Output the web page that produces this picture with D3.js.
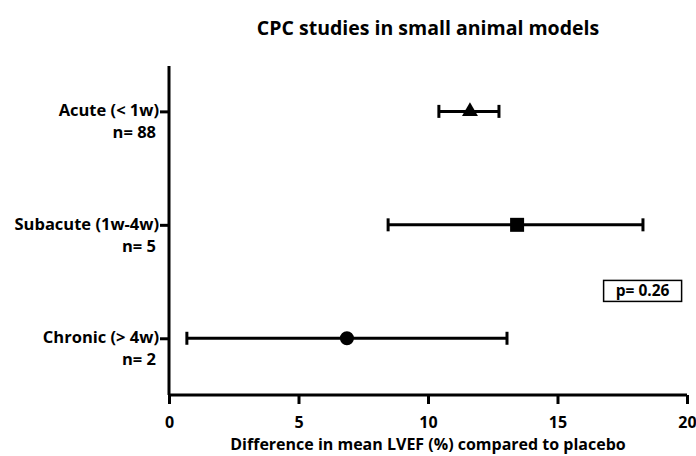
<!DOCTYPE html>
<html>
<head>
<meta charset="utf-8">
<script src="https://cdn.jsdelivr.net/npm/d3@7"></script>
<style>
  body { margin: 0; background: #fff; }
  text { font-family: "Open Sans", sans-serif; font-weight: bold; fill: #000; }
</style>
</head>
<body>
<div id="chart"></div>
<script>
// values
let groups = ["Acute (< 1w)", "Subacute (1w-4w)", "Chronic (> 4w)"];
let n_labels = ["n= 88", "n= 5", "n= 2"];
let means = [11.62, 13.44, 6.87];
let lower = [10.42, 8.46, 0.69];
let upper = [12.74, 18.3, 13.05];
let shapes = ["triangle", "square", "circle"];
let x_ticks = [0, 5, 10, 15, 20];
let p_label = "p= 0.26";

let graph_config = {
  width: 696,
  height: 456,
  margin: { left: 169, right: 9, top: 66, bottom: 61 }
};

let { width, height, margin } = graph_config;
let inner_w = width - margin.left - margin.right;
let inner_h = height - margin.top - margin.bottom;

let svg = d3.select("#chart").append("svg")
  .attr("width", width)
  .attr("height", height);

let g = svg.append("g")
  .attr("transform", "translate(" + margin.left + "," + margin.top + ")");

let x_scale = d3.scaleLinear().domain([0, 20]).range([0, inner_w]);
// rows sit on index positions, a bit more room under the last one
let y_scale = d3.scaleLinear().domain([-0.4, 2.5]).range([0, inner_h]);

let data = groups.map((name, i) => ({
  name, n: n_labels[i], mean: means[i], lo: lower[i], hi: upper[i], shape: shapes[i], i
}));

// x axis
let x_axis = g.append("g")
  .attr("transform", "translate(0," + inner_h + ")")
  .call(d3.axisBottom(x_scale).tickValues(x_ticks).tickSize(9).tickPadding(13));
x_axis.select(".domain").attr("stroke-width", 3).attr("d", "M0,0H" + inner_w);
x_axis.selectAll(".tick line").attr("stroke-width", 3);
x_axis.selectAll(".tick text").style("font-size", "16px").attr("font-family", null);

// y axis
let y_axis = g.append("g")
  .call(d3.axisLeft(y_scale).tickValues([0, 1, 2]).tickSize(9).tickFormat(""));
y_axis.select(".domain").attr("stroke-width", 3).attr("d", "M0,0V" + inner_h);
y_axis.selectAll(".tick line").attr("stroke-width", 3);

let labels = g.selectAll(".ylab").data(data).enter().append("g").attr("class", "ylab");
labels.append("text")
  .attr("x", -10).attr("y", d => y_scale(d.i) + 5)
  .attr("text-anchor", "end").style("font-size", "16.5px")
  .text(d => d.name);
labels.append("text")
  .attr("x", -13).attr("y", d => y_scale(d.i) + 27)
  .attr("text-anchor", "end").style("font-size", "16.5px")
  .text(d => d.n);

// error bars
let bars = g.selectAll(".bar").data(data).enter().append("g").attr("class", "bar")
  .attr("stroke", "#000").attr("stroke-width", 3);
bars.append("line")
  .attr("x1", d => x_scale(d.lo)).attr("x2", d => x_scale(d.hi))
  .attr("y1", d => y_scale(d.i)).attr("y2", d => y_scale(d.i));
bars.append("line")
  .attr("x1", d => x_scale(d.lo)).attr("x2", d => x_scale(d.lo))
  .attr("y1", d => y_scale(d.i) - 6.5).attr("y2", d => y_scale(d.i) + 6.5);
bars.append("line")
  .attr("x1", d => x_scale(d.hi)).attr("x2", d => x_scale(d.hi))
  .attr("y1", d => y_scale(d.i) - 6.5).attr("y2", d => y_scale(d.i) + 6.5);

let symbol_type = { triangle: d3.symbolTriangle, square: d3.symbolSquare, circle: d3.symbolCircle };
let symbol_size = { triangle: 110, square: 196, circle: 154 };
g.selectAll(".pt").data(data).enter().append("path").attr("class", "pt")
  .attr("transform", d => "translate(" + x_scale(d.mean) + "," + y_scale(d.i) + ")")
  .attr("d", d => d3.symbol().type(symbol_type[d.shape]).size(symbol_size[d.shape])())
  .attr("fill", "#000");

// p value box
let pbox = g.append("g").attr("transform", "translate(" + x_scale(16.78) + "," + (y_scale(1.49)) + ")");
pbox.append("rect").attr("width", 78).attr("height", 21)
  .attr("fill", "#fff").attr("stroke", "#000").attr("stroke-width", 1.5);
pbox.append("text").attr("x", 39).attr("y", 16).attr("text-anchor", "middle")
  .style("font-size", "15.5px").text(p_label);

// title and axis label
svg.append("text").attr("x", margin.left + inner_w / 2).attr("y", 35)
  .attr("text-anchor", "middle").style("font-size", "19.5px")
  .text("CPC studies in small animal models");
svg.append("text").attr("x", margin.left + inner_w / 2).attr("y", 450)
  .attr("text-anchor", "middle").style("font-size", "16px")
  .text("Difference in mean LVEF (%) compared to placebo");
</script>
</body>
</html>
